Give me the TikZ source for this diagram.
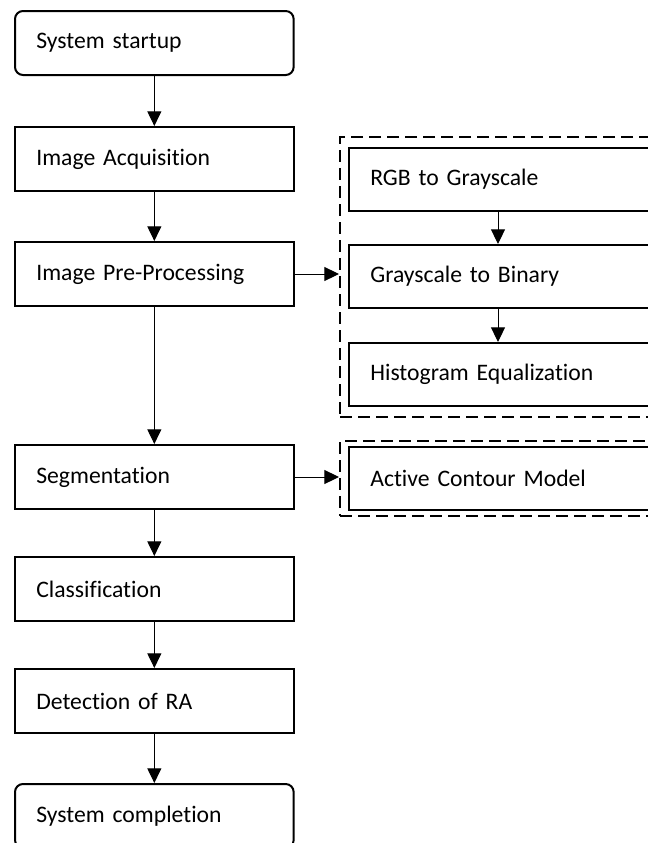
\documentclass[tikz,border=0pt]{standalone}
\usepackage{fontspec}
\setmainfont{Carlito}[RawFeature=-liga]
\usetikzlibrary{arrows.meta,fit}
\tikzset{
  every node/.style={font=\fontsize{17.75pt}{21pt}\selectfont},
  lbox/.style={draw, line width=1.5pt, rectangle, anchor=north west,
    minimum height=48pt, text width=177pt, inner xsep=16pt, inner ysep=0pt, align=left},
  rbox/.style={draw, line width=1.5pt, rectangle, anchor=north west,
    minimum height=47pt, text width=243pt, inner xsep=16pt, inner ysep=0pt, align=left},
  term/.style={lbox, rounded corners=6pt},
  arr/.style={line width=0.75pt, -{Triangle[length=11pt,width=10.5pt]}},
  dbox/.style={draw, line width=1.5pt, dash pattern=on 9pt off 4.5pt, inner xsep=6pt}
}
\begin{document}
\begin{tikzpicture}[x=0.75pt,y=-0.75pt]
\useasboundingbox (0,0) rectangle (648,843);
\clip (0,0) rectangle (648,843);
\node[term] (start) at (14,10) {System startup};
\node[lbox] (acq) at (14,126) {Image Acquisition};
\node[lbox] (pre) at (14,241) {Image Pre-Processing};
\node[lbox] (seg) at (14,444) {Segmentation};
\node[lbox] (cls) at (14,556) {Classification};
\node[lbox] (det) at (14,668) {Detection of RA};
\node[term] (end) at (14,783) {System completion};
\node[rbox] (rgb) at (348,147) {RGB to Grayscale};
\node[rbox] (gtb) at (348,244) {Grayscale to Binary};
\node[rbox] (hist) at (348,342) {Histogram Equalization};
\node[rbox] (acm) at (348,446) {Active Contour Model};
\node[dbox, inner ysep=7.5pt, fit=(rgb)(hist)] (grp1) {};
\node[dbox, inner ysep=4pt, fit=(acm)] (grp2) {};
\draw[arr] (start) -- (acq);
\draw[arr] (acq) -- (pre);
\draw[arr] (pre) -- (seg);
\draw[arr] (seg) -- (cls);
\draw[arr] (cls) -- (det);
\draw[arr] (det.south) -- (det.south |- end.north);
\draw[arr] (rgb.south -| 498,0) -- (gtb.north -| 498,0);
\draw[arr] (gtb.south -| 498,0) -- (hist.north -| 498,0);
\draw[arr] (pre.east) -- (grp1.west |- pre.east);
\draw[arr] (seg.east) -- (grp2.west |- seg.east);
\end{tikzpicture}
\end{document}
